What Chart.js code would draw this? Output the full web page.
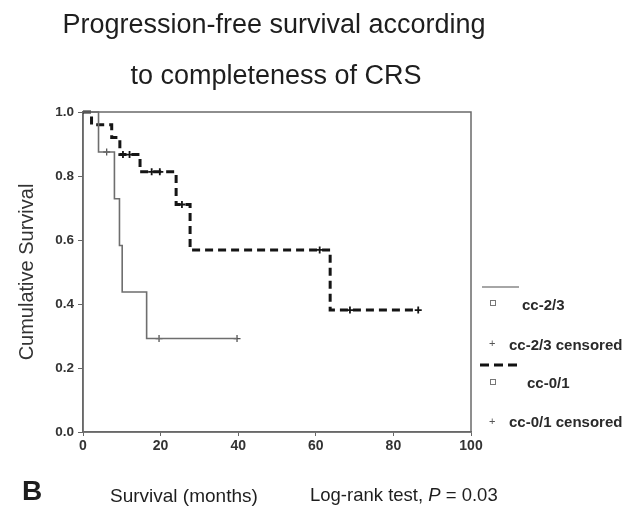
<!DOCTYPE html>
<html>
<head>
<meta charset="utf-8">
<script src="https://cdn.jsdelivr.net/npm/chart.js@4.4.1/dist/chart.umd.min.js"></script>
<style>
  body { margin: 0; background: #fff; font-family: "Liberation Sans", Arial, sans-serif; }
  #wrap { position: relative; width: 643px; height: 506px; overflow: hidden; }
  #wrap canvas { position: absolute; left: 0; top: 0; }
  .txt { position: absolute; white-space: nowrap; color: #1e1e1e; line-height: 1; }
  .title { font-size: 27px; left: 0; width: 548px; text-align: center; }
  .leg { font-size: 15px; font-weight: bold; color: #2a2a2a; }
  .sq { position: absolute; width: 4px; height: 4px; border: 1px solid #777; }
  .plus { position: absolute; font-size: 11px; line-height: 1; color: #555; }
</style>
</head>
<body>
<div id="wrap">
  <canvas id="kmChart" width="643" height="506"></canvas>

  <div class="txt title" style="top: 11px;">Progression-free survival according</div>
  <div class="txt title" style="top: 62px; left: 2px;">to completeness of CRS</div>

  <svg style="position:absolute; left:478px; top:280px;" width="45" height="90">
    <line x1="4" y1="7" x2="41" y2="7" stroke="#888" stroke-width="1.6" />
    <line x1="2" y1="85" x2="41" y2="85" stroke="#111" stroke-width="3" stroke-dasharray="9 5" />
  </svg>
  <div class="sq" style="left: 490px; top: 300px;"></div>
  <div class="plus" style="left: 489px; top: 338px;">+</div>
  <div class="sq" style="left: 490px; top: 379px;"></div>
  <div class="plus" style="left: 489px; top: 416px;">+</div>
  <div class="txt leg" style="left: 522px; top: 297px;">cc-2/3</div>
  <div class="txt leg" style="left: 509px; top: 337px;">cc-2/3 censored</div>
  <div class="txt leg" style="left: 527px; top: 375px;">cc-0/1</div>
  <div class="txt leg" style="left: 509px; top: 414px;">cc-0/1 censored</div>

  <div class="txt" style="left: 22px; top: 477px; font-size: 28px; font-weight: bold;">B</div>
  <div class="txt" style="left: 110px; top: 486px; font-size: 19px;">Survival (months)</div>
  <div class="txt" style="left: 310px; top: 486px; font-size: 18.5px;">Log-rank test, <i>P</i> = 0.03</div>
</div>

<script>
// cc-2/3 group (solid grey line)
const ccBadTimes = [0, 4, 8.1, 9.4, 10.1, 16.4, 39.7];
const ccBadSurv = [1, 0.875, 0.729, 0.583, 0.4375, 0.292, 0.292];
const ccBadCensorTimes = [6.1, 19.6, 39.7];
const ccBadCensorSurv = [0.875, 0.292, 0.292];

// cc-0/1 group (dashed black line)
const ccGoodTimes = [0, 2.2, 7.4, 9.5, 14.7, 24, 27.6, 63.7, 86.4];
const ccGoodSurv = [1, 0.96, 0.92, 0.867, 0.813, 0.711, 0.569, 0.381, 0.381];
const ccGoodCensorTimes = [10.3, 12, 17.7, 19.8, 25.5, 61, 68.8, 86.4];
const ccGoodCensorSurv = [0.867, 0.867, 0.813, 0.813, 0.711, 0.569, 0.381, 0.381];

const xTicks = [0, 20, 40, 60, 80, 100];
const yTicks = [0, 0.2, 0.4, 0.6, 0.8, 1.0];

const toPoints = (xs, ys) => xs.map((x, i) => ({ x, y: ys[i] }));

const framePlugin = {
  id: 'frame',
  beforeDatasetsDraw(chart) {
    const { ctx, chartArea: a } = chart;
    ctx.save();
    ctx.strokeStyle = '#6a6a6a';
    ctx.lineWidth = 1.5;
    ctx.strokeRect(a.left, a.top, a.right - a.left, a.bottom - a.top);
    ctx.restore();
  }
};

const tickFont = { family: '"Liberation Sans", Arial, sans-serif', size: 13.5, weight: 'bold' };

new Chart(document.getElementById('kmChart'), {
  type: 'scatter',
  data: {
    datasets: [
      {
        label: 'cc-2/3',
        data: toPoints(ccBadTimes, ccBadSurv),
        showLine: true,
        stepped: true,
        borderColor: '#6e6e6e',
        borderWidth: 1.6,
        pointRadius: 0
      },
      {
        label: 'cc-2/3 censored',
        data: toPoints(ccBadCensorTimes, ccBadCensorSurv),
        pointStyle: 'cross',
        pointRadius: 3.5,
        borderColor: '#555',
        borderWidth: 1.3
      },
      {
        label: 'cc-0/1',
        data: toPoints(ccGoodTimes, ccGoodSurv),
        showLine: true,
        stepped: true,
        borderColor: '#151515',
        borderWidth: 3,
        borderDash: [8, 5],
        pointRadius: 0
      },
      {
        label: 'cc-0/1 censored',
        data: toPoints(ccGoodCensorTimes, ccGoodCensorSurv),
        pointStyle: 'cross',
        pointRadius: 3.5,
        borderColor: '#151515',
        borderWidth: 1.8
      }
    ]
  },
  options: {
    responsive: false,
    animation: false,
    clip: false,
    layout: { padding: { top: 112, right: 172, left: 0, bottom: 0 } },
    plugins: { legend: { display: false }, tooltip: { enabled: false } },
    scales: {
      x: {
        type: 'linear',
        min: 0,
        max: 100,
        afterBuildTicks: (s) => { s.ticks = xTicks.map((v) => ({ value: v })); },
        ticks: { font: { ...tickFont, size: 14 }, color: '#333', padding: 2 },
        grid: { drawOnChartArea: false, tickLength: 4, color: '#666' },
        border: { color: '#666', width: 1.5 },
        afterFit: (s) => { s.height = 74; }
      },
      y: {
        min: 0,
        max: 1,
        afterBuildTicks: (s) => { s.ticks = yTicks.map((v) => ({ value: v })); },
        ticks: { font: tickFont, color: '#333', padding: 4, callback: (v) => Number(v).toFixed(1) },
        grid: { drawOnChartArea: false, tickLength: 5, color: '#666' },
        border: { color: '#666', width: 1.5 },
        title: {
          display: true,
          text: 'Cumulative Survival',
          color: '#333',
          font: { family: '"Liberation Sans", Arial, sans-serif', size: 20 },
          padding: { top: 15, bottom: 0 }
        },
        afterFit: (s) => { s.width = 83; }
      }
    }
  },
  plugins: [framePlugin]
});
</script>
</body>
</html>
